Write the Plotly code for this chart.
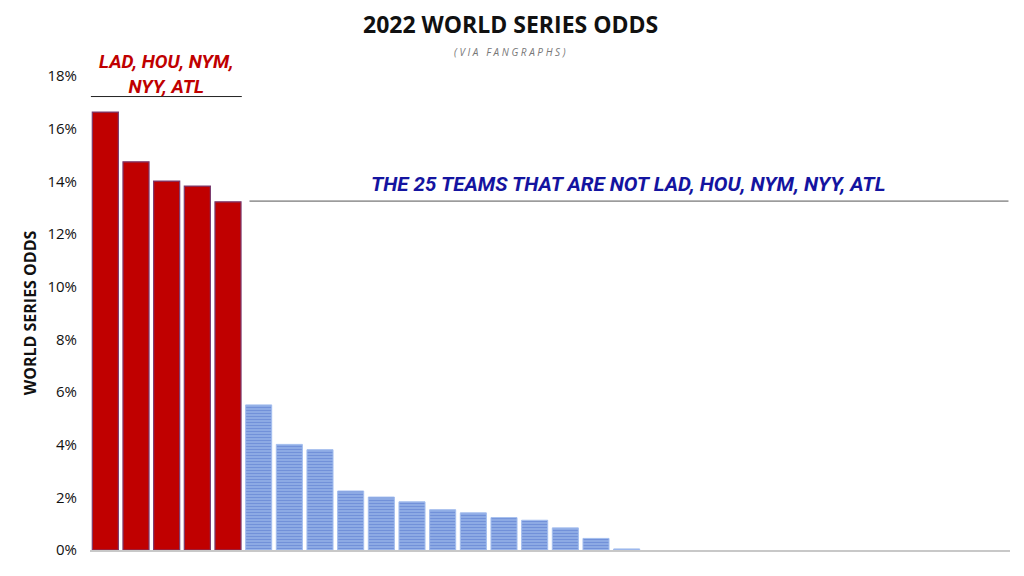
import plotly.graph_objects as go

top_teams = ["LAD", "HOU", "NYM", "NYY", "ATL"]
top_odds = [16.63, 14.74, 14.01, 13.82, 13.22]

other_ranks = list(range(6, 31))
other_odds = [5.51, 4.01, 3.81, 2.24, 2.01, 1.83, 1.53, 1.41, 1.23, 1.13,
              0.84, 0.44, 0.04, 0, 0, 0, 0, 0, 0, 0, 0, 0, 0, 0, 0]

y_ticks = [0, 2, 4, 6, 8, 10, 12, 14, 16, 18]
y_tick_labels = [f"{v}%" for v in y_ticks]

x_top = list(range(1, 6))
x_other = other_ranks

fig = go.Figure()
fig.add_trace(go.Bar(
    x=x_top, y=top_odds, width=0.85,
    marker=dict(color="#c00000", line=dict(color="#7a3a6e", width=1.2)),
    text=top_teams, textposition="none", hoverinfo="y+text",
))
fig.add_trace(go.Bar(
    x=x_other, y=other_odds, width=0.85,
    marker=dict(color="#9ab5ea",
                line=dict(color="#a3bdee", width=[1 if v > 0 else 0 for v in other_odds]),
                pattern=dict(shape="-", fgcolor="#4a6ec7", bgcolor="#9ab5ea",
                             size=3, solidity=0.55)),
    hoverinfo="y",
))

# page body has an 8px offset: margins are compensated
fig.update_layout(
    width=1024, height=576,
    margin=dict(l=82, r=22, t=68, b=34),
    paper_bgcolor="white", plot_bgcolor="white",
    showlegend=False, bargap=0.15,
    font=dict(family="Open Sans", color="#111"),
    xaxis=dict(range=[0.5, 30.5], showticklabels=False, showgrid=False,
               zeroline=False, showline=True, linecolor="#c8c8c8", linewidth=2,
               ticks=""),
    yaxis=dict(range=[0, 18], tickvals=y_ticks, ticktext=y_tick_labels,
               showgrid=False, zeroline=False, showline=False,
               tickfont=dict(family="Open Sans", size=15, color="#111"),
               ticks="", ticklabelstandoff=12,
               title=dict(text="<b>WORLD SERIES ODDS</b>",
                          font=dict(family="Open Sans", size=16, color="#111"),
                          standoff=6)),
)

fig.add_annotation(text="<b>2022 WORLD SERIES ODDS</b>", xref="paper", yref="paper",
                   x=0.457, y=1.0, yshift=52, showarrow=False,
                   font=dict(family="Open Sans", size=23, color="#111"),
                   xanchor="center", yanchor="middle")
fig.add_annotation(text="<i>( V I A   F A N G R A P H S )</i>", xref="paper", yref="paper",
                   x=0.457, y=1.0, yshift=24, showarrow=False,
                   font=dict(family="Open Sans", size=10, color="#777"),
                   xanchor="center", yanchor="middle")

# red label
fig.add_annotation(text="<b><i>LAD, HOU, NYM,<br>NYY, ATL</i></b>", x=3, y=18, yref="y",
                   yshift=2, showarrow=False,
                   font=dict(family="Roboto", size=19, color="#c00000"),
                   xanchor="center", yanchor="middle")
fig.add_shape(type="line", x0=0.53, x1=5.45, y0=17.22, y1=17.22,
              line=dict(color="#222", width=1))

# blue label
fig.add_annotation(text="<b><i>THE 25 TEAMS THAT ARE NOT LAD, HOU, NYM, NYY, ATL</i></b>",
                   x=18.05, y=13.88, showarrow=False,
                   font=dict(family="Roboto", size=20.5, color="#1414a0"),
                   xanchor="center", yanchor="middle")
fig.add_shape(type="line", x0=5.7, x1=30.45, y0=13.25, y1=13.25,
              line=dict(color="#555", width=1))

fig.write_html("out.html")
